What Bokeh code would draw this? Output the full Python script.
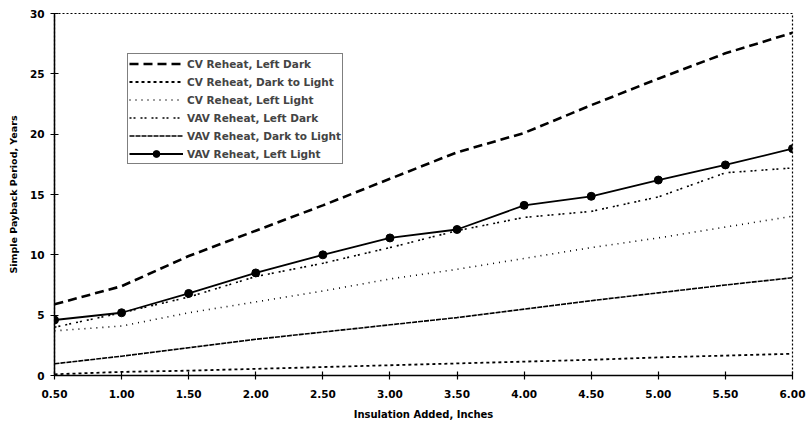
from bokeh.plotting import figure
from bokeh.models import FixedTicker, NumeralTickFormatter, Range1d, Legend, LegendItem
from bokeh.embed import file_html
from bokeh.resources import INLINE

insulation = [0.5, 1.0, 1.5, 2.0, 2.5, 3.0, 3.5, 4.0, 4.5, 5.0, 5.5, 6.0]
cv_left_dark = [5.9, 7.4, 9.9, 12.0, 14.1, 16.3, 18.5, 20.1, 22.4, 24.6, 26.7, 28.4]
cv_dark_to_light = [0.1, 0.3, 0.4, 0.55, 0.7, 0.85, 1.0, 1.15, 1.3, 1.5, 1.65, 1.8]
cv_left_light = [3.7, 4.1, 5.2, 6.1, 7.0, 8.0, 8.8, 9.7, 10.6, 11.4, 12.3, 13.2]
vav_left_dark = [4.0, 5.2, 6.5, 8.2, 9.3, 10.6, 12.0, 13.1, 13.6, 14.8, 16.8, 17.2]
vav_dark_to_light = [0.97, 1.6, 2.3, 3.0, 3.6, 4.2, 4.8, 5.5, 6.2, 6.85, 7.5, 8.1]
vav_left_light = [4.6, 5.2, 6.8, 8.5, 10.0, 11.4, 12.1, 14.1, 14.85, 16.2, 17.45, 18.8]

labels = ["CV Reheat, Left Dark", "CV Reheat, Dark to Light", "CV Reheat, Left Light",
          "VAV Reheat, Left Dark", "VAV Reheat, Dark to Light", "VAV Reheat, Left Light"]
x_ticks = [0.5, 1.0, 1.5, 2.0, 2.5, 3.0, 3.5, 4.0, 4.5, 5.0, 5.5, 6.0]
y_ticks = [0, 5, 10, 15, 20, 25, 30]

FONT = "DejaVu Sans"

p = figure(frame_width=738, frame_height=362, output_backend="svg", toolbar_location=None,
           x_range=Range1d(0.5, 6.0), y_range=Range1d(0, 30),
           min_border_left=54, min_border_right=14, min_border_top=13, min_border_bottom=53)
p.grid.visible = False
p.outline_line_color = "black"
p.outline_line_dash = "2 2"
p.outline_line_width = 1.2
p.background_fill_color = "white"
p.border_fill_color = "white"

for ax in (p.xaxis, p.yaxis):
    ax.axis_line_color = "black"
    ax.axis_line_width = 1.5
    ax.major_tick_in = 4
    ax.major_tick_out = 4
    ax.major_tick_line_width = 1.2
    ax.minor_tick_line_color = None
    ax.major_label_text_font = FONT
    ax.major_label_text_font_style = "bold"
    ax.major_label_text_font_size = "10.5px"
    ax.axis_label_text_font = FONT
    ax.axis_label_text_font_style = "bold"
    ax.axis_label_text_color = "black"
    ax.major_label_text_color = "black"

p.xaxis.ticker = FixedTicker(ticks=x_ticks)
p.xaxis.formatter = NumeralTickFormatter(format="0.00")
p.yaxis.ticker = FixedTicker(ticks=y_ticks)
p.xaxis.axis_label = "Insulation Added, Inches"
p.xaxis.axis_label_text_font_size = "10px"
p.xaxis.axis_label_standoff = 8
p.yaxis.axis_label = "Simple Payback Period, Years"
p.yaxis.axis_label_text_font_size = "9.5px"
p.yaxis.axis_label_standoff = 8
p.xaxis.major_label_standoff = 10
p.yaxis.major_label_standoff = 6

r1 = p.line(insulation, cv_left_dark, line_color="black", line_width=2.6, line_dash="9 5")
r2 = p.line(insulation, cv_dark_to_light, line_color="black", line_width=1.8, line_dash="3 3")
r3 = p.line(insulation, cv_left_light, line_color="black", line_width=1.6, line_dash="1 5")
r4 = p.line(insulation, vav_left_dark, line_color="black", line_width=1.6, line_dash="2 2 2 5")
r5 = p.line(insulation, vav_dark_to_light, line_color="black", line_width=1.6, line_dash="5 1")
r6 = p.line(insulation, vav_left_light, line_color="black", line_width=1.8)
r6m = p.scatter(insulation, vav_left_light, size=8, marker="circle", fill_color="black", line_color="black")

items = [LegendItem(label=labels[0], renderers=[r1]),
         LegendItem(label=labels[1], renderers=[r2]),
         LegendItem(label=labels[2], renderers=[r3]),
         LegendItem(label=labels[3], renderers=[r4]),
         LegendItem(label=labels[4], renderers=[r5]),
         LegendItem(label=labels[5], renderers=[r6, r6m])]
legend = Legend(items=items, location=(73, 211), margin=0, padding=1, spacing=1,
                glyph_width=54, glyph_height=17, label_height=17, label_standoff=4,
                label_text_font=FONT, label_text_font_style="bold", label_text_font_size="10.5px",
                border_line_color="black", border_line_width=1.5, background_fill_alpha=1)
p.add_layout(legend)

open("out.html", "w").write(file_html(p, INLINE))
